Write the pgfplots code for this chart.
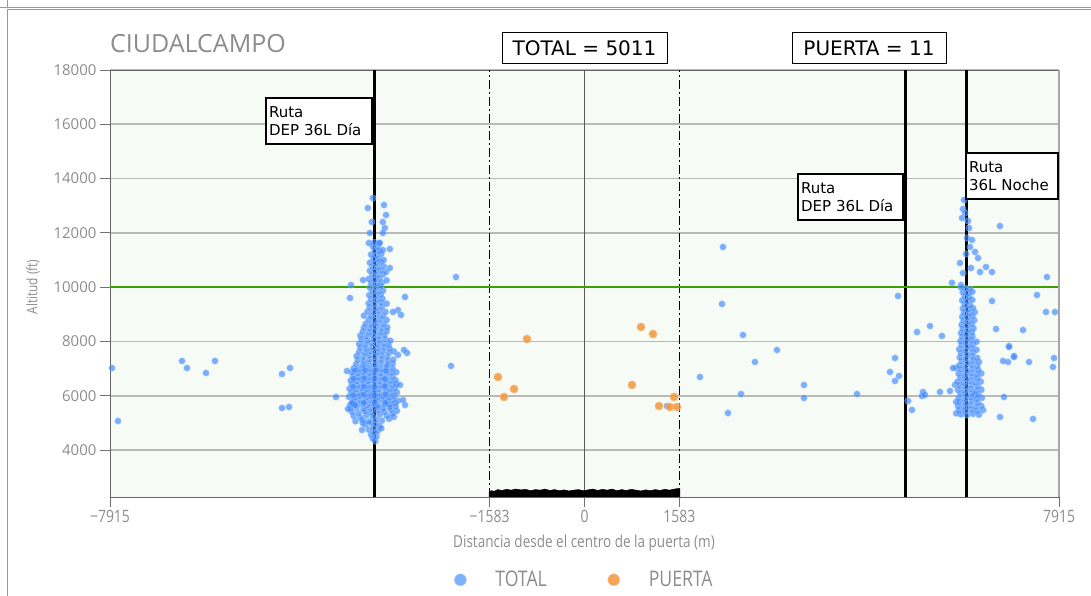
\documentclass[border=0pt]{standalone}
\usepackage{pgfplots}
\pgfplotsset{compat=1.18}
\usepackage{fontspec}
\setmainfont{Open Sans}
\newfontfamily\dejavu{DejaVu Sans}
\newfontfamily\cond{Open Sans}[FakeStretch=0.82]
\definecolor{bgc}{RGB}{246,251,246}
\definecolor{gridc}{RGB}{185,185,185}
\definecolor{tot}{RGB}{60,135,255}
\definecolor{pue}{RGB}{243,150,60}
\definecolor{grn}{RGB}{60,160,0}
\definecolor{txtg}{RGB}{140,140,140}
\begin{document}
\begin{tikzpicture}[x=1pt,y=1pt]
\useasboundingbox (0,0) rectangle (1091,596);
% outer frames
\draw[gray!80, line width=1pt] (0,588.5) -- (1091,588.5);
\draw[gray!80, line width=1pt] (7.5,596) -- (7.5,588.5);
\draw[gray!80, line width=1pt] (7.5,0) -- (7.5,586) -- (1091,586);
\begin{axis}[
  at={(110pt,99pt)}, anchor=south west,
  width=949pt, height=427pt, scale only axis,
  xmin=-7915, xmax=7915, ymin=2268, ymax=18000,
  axis background/.style={fill=bgc},
  axis line style={draw=black!60, line width=0.8pt},
  xtick={-7915,-1583,0,1583,7915},
  xticklabels={−7915,−1583,0,1583,7915},
  ytick={4000,6000,8000,10000,12000,14000,16000,18000},
  yticklabels={4000,6000,8000,10000,12000,14000,16000,18000},
  tick align=outside, major tick length=10pt,
  xtick pos=bottom, ytick pos=left,
  tick style={draw=black!55, line width=0.8pt},
  yticklabel style={font=\fontsize{15}{15}\selectfont, text=txtg},
  xticklabel style={font=\cond\fontsize{17}{17}\selectfont, text=txtg},
  ymajorgrids, grid style={draw=gridc, line width=1.6pt},
  scaled ticks=false,
  legend style={at={(axis description cs:0.5,-0.194)}, anchor=center, draw=none, fill=none,
    legend columns=2, font=\cond\fontsize{21.5}{21.5}\selectfont, text=txtg,
    /tikz/every odd column/.append style={column sep=27pt},
    /tikz/every even column/.append style={column sep=59pt}},
  legend image code/.code={\draw[#1, mark size=6pt] plot coordinates {(0pt,0pt)};},
]
% reference lines
\addplot[black, line width=3pt, forget plot] coordinates {(-3511,2268) (-3511,18000)};
\addplot[black, line width=3pt, forget plot] coordinates {(5346,2268) (5346,18000)};
\addplot[black, line width=3pt, forget plot] coordinates {(6364,2268) (6364,18000)};
\addplot[black, line width=1.5pt, dash pattern=on 9pt off 3pt on 2pt off 3pt, forget plot] coordinates {(-1583,2268) (-1583,18000)};
\addplot[black, line width=1.5pt, dash pattern=on 9pt off 3pt on 2pt off 3pt, forget plot] coordinates {(1583,2268) (1583,18000)};
\addplot[black!65, line width=0.8pt, forget plot] coordinates {(0,2268) (0,18000)};
\addplot[grn, line width=2pt, forget plot] coordinates {(-7915,10000) (7915,10000)};
% dense band of flights at the gate (bottom)
\addplot[fill=black, draw=black, line width=0.5pt, forget plot] coordinates {
(-1590,2268) (-1590,2440) (-1560,2500) (-1500,2480) (-1450,2540) (-1380,2510) (-1300,2550)
(-1220,2520) (-1150,2560) (-1060,2530) (-980,2550) (-900,2500) (-820,2540) (-740,2520)
(-660,2560) (-580,2510) (-500,2540) (-420,2500) (-340,2530) (-260,2490) (-180,2520)
(-100,2540) (-20,2500) (60,2530) (140,2560) (220,2510) (300,2550) (380,2520) (460,2560)
(540,2500) (620,2540) (700,2510) (780,2550) (860,2520) (940,2490) (1020,2530) (1100,2500)
(1180,2540) (1260,2510) (1340,2550) (1420,2520) (1500,2560) (1560,2580) (1590,2560) (1590,2268)} --cycle;
% TOTAL
\addplot[only marks, mark=*, mark size=3.3pt, mark options={fill=tot, draw=tot!45!white, line width=0.4pt, opacity=0.65}] table {
x y
-7882 7021
-7782 5068
-6714 7279
-6631 7021
-6314 6837
-6164 7279
-5046 6800
-4913 7021
-5046 5547
-4929 5584
-2144 10373
-2227 7095
2310 11479
2293 9379
2643 8237
3210 7684
2843 7242
1926 6689
2610 6063
2393 5363
3661 6395
3661 5916
4545 6063
5229 9674
5179 7389
5096 6874
5179 6542
5246 6726
1376 5621
6930 12252
7714 10373
7547 9710
7697 9084
7847 9084
7314 8421
7831 7389
7814 7058
7414 7242
7064 7242
7164 7463
7081 7831
6997 5953
7481 5142
6930 5216
5546 8347
5762 8568
5962 8200
5396 5805
5463 5474
5629 5989
5646 6137
5679 6026
5929 6137
6096 6174
6129 10157
6179 6395
6196 7021
6797 9490
6864 8458
7081 7795
7164 7426
6981 7279
6146 7021
6514 6026
-3490 4330
-3530 4420
-3470 4500
-3560 4560
-3510 4650
-3450 4700
-3600 4750
-3520 4820
-3420 4880
-3650 4930
-3480 4960
-3560 5000
-3390 4800
-3700 4990
-3820 5060
-3700 5100
-3600 5050
-3480 5120
-3380 5080
-3260 5150
-3180 5220
-3850 5250
-3740 5200
-3640 5280
-3530 5230
-3420 5300
-3300 5260
-3200 5330
-3880 5400
-3770 5360
-3660 5420
-3560 5380
-3450 5450
-3340 5400
-3230 5470
-3130 5440
-3900 5520
-3800 5560
-3690 5500
-3580 5540
-3470 5580
-3360 5520
-3250 5570
-3150 5600
-3910 5660
-3820 5640
-3720 5690
-3630 5650
-3530 5700
-3440 5630
-3340 5680
-3250 5660
-3160 5710
-3870 5790
-3770 5820
-3680 5780
-3580 5830
-3480 5800
-3390 5850
-3290 5790
-3200 5830
-3110 5810
-3930 5960
-3830 5930
-3740 5980
-3640 5940
-3550 5990
-3450 5950
-3350 5970
-3260 5930
-3170 5980
-3890 6110
-3790 6080
-3700 6130
-3600 6090
-3510 6120
-3410 6080
-3310 6140
-3220 6100
-3130 6120
-3920 6260
-3820 6230
-3730 6280
-3630 6240
-3540 6270
-3440 6230
-3340 6290
-3250 6250
-3160 6270
-3880 6410
-3790 6380
-3690 6430
-3600 6390
-3500 6420
-3400 6380
-3310 6440
-3210 6400
-3140 6420
-3900 6560
-3800 6530
-3710 6580
-3610 6540
-3520 6570
-3420 6530
-3330 6590
-3240 6550
-3150 6570
-3860 6710
-3770 6680
-3680 6730
-3580 6690
-3490 6720
-3390 6680
-3300 6740
-3200 6700
-3880 6860
-3780 6830
-3690 6880
-3590 6840
-3500 6870
-3400 6830
-3310 6890
-3220 6850
-3140 6870
-3850 7010
-3760 6980
-3660 7030
-3570 6990
-3470 7020
-3380 6980
-3290 7040
-3200 7000
-3860 5720
-3680 5740
-3500 5760
-3320 5740
-3860 6020
-3680 6040
-3500 6020
-3320 6050
-3860 6330
-3680 6340
-3500 6320
-3330 6350
-3850 6620
-3670 6640
-3500 6630
-3330 6610
-3830 6930
-3660 6940
-3480 6950
-3310 6920
-3810 7160
-3700 7130
-3600 7180
-3500 7140
-3400 7170
-3300 7130
-3200 7180
-3780 7310
-3680 7280
-3580 7330
-3480 7290
-3380 7320
-3280 7280
-3190 7330
-3800 7460
-3690 7430
-3590 7480
-3490 7440
-3390 7470
-3290 7430
-3760 7610
-3660 7580
-3560 7630
-3460 7590
-3360 7620
-3260 7580
-3180 7630
-3740 7760
-3640 7730
-3540 7780
-3440 7740
-3340 7770
-3250 7730
-3760 7910
-3660 7880
-3560 7930
-3460 7890
-3360 7920
-3270 7880
-3720 8060
-3620 8030
-3520 8080
-3420 8040
-3320 8070
-3240 8030
-3740 8210
-3640 8180
-3540 8230
-3440 8190
-3340 8220
-3700 8360
-3600 8330
-3500 8380
-3400 8340
-3300 8370
-3680 8510
-3580 8480
-3480 8530
-3380 8490
-3290 8520
-3650 8650
-3550 8620
-3450 8680
-3350 8640
-3600 8800
-3500 8780
-3400 8820
-3300 8790
-3680 8950
-3560 8930
-3460 8970
-3360 8940
-3620 9100
-3520 9080
-3420 9120
-3320 9090
-3580 9250
-3480 9230
-3380 9270
-3600 9400
-3500 9380
-3400 9420
-3300 9390
-3560 9550
-3460 9530
-3370 9570
-3590 9700
-3490 9680
-3400 9720
-3540 9850
-3450 9830
-3360 9870
-3580 9980
-3480 10000
-3400 10020
-3560 10150
-3460 10130
-3380 10170
-3600 10300
-3500 10280
-3420 10320
-3300 10250
-3540 10450
-3460 10430
-3360 10470
-3580 10600
-3490 10580
-3400 10620
-3310 10560
-3540 10750
-3450 10730
-3350 10770
-3580 10900
-3480 10880
-3400 10920
-3520 11050
-3440 11030
-3350 11000
-3560 11200
-3470 11180
-3390 11220
-3500 11350
-3420 11330
-3530 11500
-3450 11480
-3510 11650
-3430 11630
-3531 13284
-3614 12915
-3345 13026
-3311 12657
-3548 12400
-3364 12400
-3331 12179
-3364 11995
-3581 11995
-3597 11626
-3414 11626
-3364 11368
-3247 11405
-3247 10705
-3694 10262
-2994 9637
-3111 9158
-3194 9084
-3061 8973
-3077 6395
-2994 5658
-3027 5842
-3111 7500
-2960 7574
-3011 7684
-3912 9600
-3962 6910
-4146 5953
-3945 5510
-3879 5731
-3711 4737
-3828 5658
-3895 10078
6330 13210
6313 12878
6347 12731
6297 12547
6397 12437
6414 12179
6380 11810
6464 11737
6430 11479
6514 11295
6364 11221
6564 11073
6263 10889
6447 10705
6697 10742
6797 10557
6597 10557
6313 10521
6280 10079
6280 5310
6380 5290
6480 5330
6580 5300
6200 5350
6250 5460
6350 5430
6450 5480
6550 5440
6650 5470
6230 5610
6330 5580
6420 5630
6520 5590
6620 5620
6260 5760
6360 5730
6460 5780
6560 5740
6200 5770
6240 5910
6340 5880
6440 5930
6540 5890
6630 5920
6270 6060
6370 6030
6470 6080
6570 6040
6230 6210
6330 6180
6430 6230
6530 6190
6620 6220
6260 6360
6360 6330
6460 6380
6560 6340
6220 6510
6320 6480
6420 6530
6520 6490
6610 6520
6270 6660
6370 6630
6470 6680
6560 6640
6240 6810
6340 6780
6440 6830
6540 6790
6620 6820
6280 6960
6380 6930
6480 6980
6570 6940
6250 7110
6350 7080
6450 7130
6550 7090
6290 7260
6390 7230
6490 7280
6580 7240
6260 7410
6360 7380
6460 7430
6550 7390
6280 7560
6380 7530
6480 7580
6250 7710
6350 7680
6450 7730
6540 7690
6290 7860
6390 7830
6480 7880
6270 8010
6360 7980
6450 8030
6540 7990
6300 8160
6390 8130
6470 8180
6280 8310
6370 8280
6460 8330
6310 8460
6400 8430
6490 8480
6290 8610
6380 8580
6460 8630
6320 8760
6410 8730
6500 8780
6300 8910
6390 8880
6470 8930
6330 9060
6420 9030
6510 9080
6310 9210
6400 9180
6480 9230
6340 9360
6430 9330
6300 9510
6390 9480
6470 9530
6340 9660
6420 9630
6310 9810
6400 9780
6470 9830
6350 9960
6430 9930
6280 9990
};
\addlegendentry{TOTAL}
% PUERTA
\addplot[only marks, mark=*, mark size=4.2pt, mark options={fill=pue, draw=pue!50!white, line width=0.5pt, opacity=0.85}] table {
x y
-960 8089
-1443 6689
-1176 6247
-1343 5953
942 8531
1142 8273
792 6395
1493 5953
1243 5621
1426 5584
1543 5584
};
\addlegendentry{PUERTA}
\end{axis}
% right spine lighter
\draw[black!35, line width=1.6pt] (1059,99) -- (1059,526);
% titles and labels
\node[anchor=base west, text=txtg, font=\fontsize{25}{25}\selectfont, inner sep=0pt] at (110,543) {CIUDALCAMPO};
\node[draw=black, line width=1pt, fill=white, minimum width=165pt, minimum height=31pt, inner sep=0pt, font=\dejavu\fontsize{20}{20}\selectfont] at (584.5,547.5) {TOTAL = 5011};
\node[draw=black, line width=1pt, fill=white, minimum width=154pt, minimum height=31pt, inner sep=0pt, font=\dejavu\fontsize{20}{20}\selectfont] at (869,547.5) {PUERTA = 11};
\node[draw=black, line width=2pt, fill=white, inner xsep=3pt, inner ysep=3pt, text width=100pt, minimum height=46pt, align=left, anchor=north east, font=\dejavu\fontsize{15}{18}\selectfont] at (373,499) {Ruta\\DEP 36L Día};
\node[draw=black, line width=2pt, fill=white, inner xsep=3pt, inner ysep=3pt, text width=99pt, minimum height=46pt, align=left, anchor=north east, font=\dejavu\fontsize{15}{18}\selectfont] at (904,423) {Ruta\\DEP 36L Día};
\node[draw=black, line width=2pt, fill=white, inner xsep=3pt, inner ysep=3pt, text width=86pt, minimum height=46pt, align=left, anchor=north west, font=\dejavu\fontsize{15}{18}\selectfont] at (965,444) {Ruta\\36L Noche};
\node[rotate=90, text=txtg, font=\cond\fontsize{14.5}{14.5}\selectfont] at (33,309) {Altitud (ft)};
\node[text=txtg, font=\cond\fontsize{16.5}{16.5}\selectfont] at (584,53) {Distancia desde el centro de la puerta (m)};
\end{tikzpicture}
\end{document}
